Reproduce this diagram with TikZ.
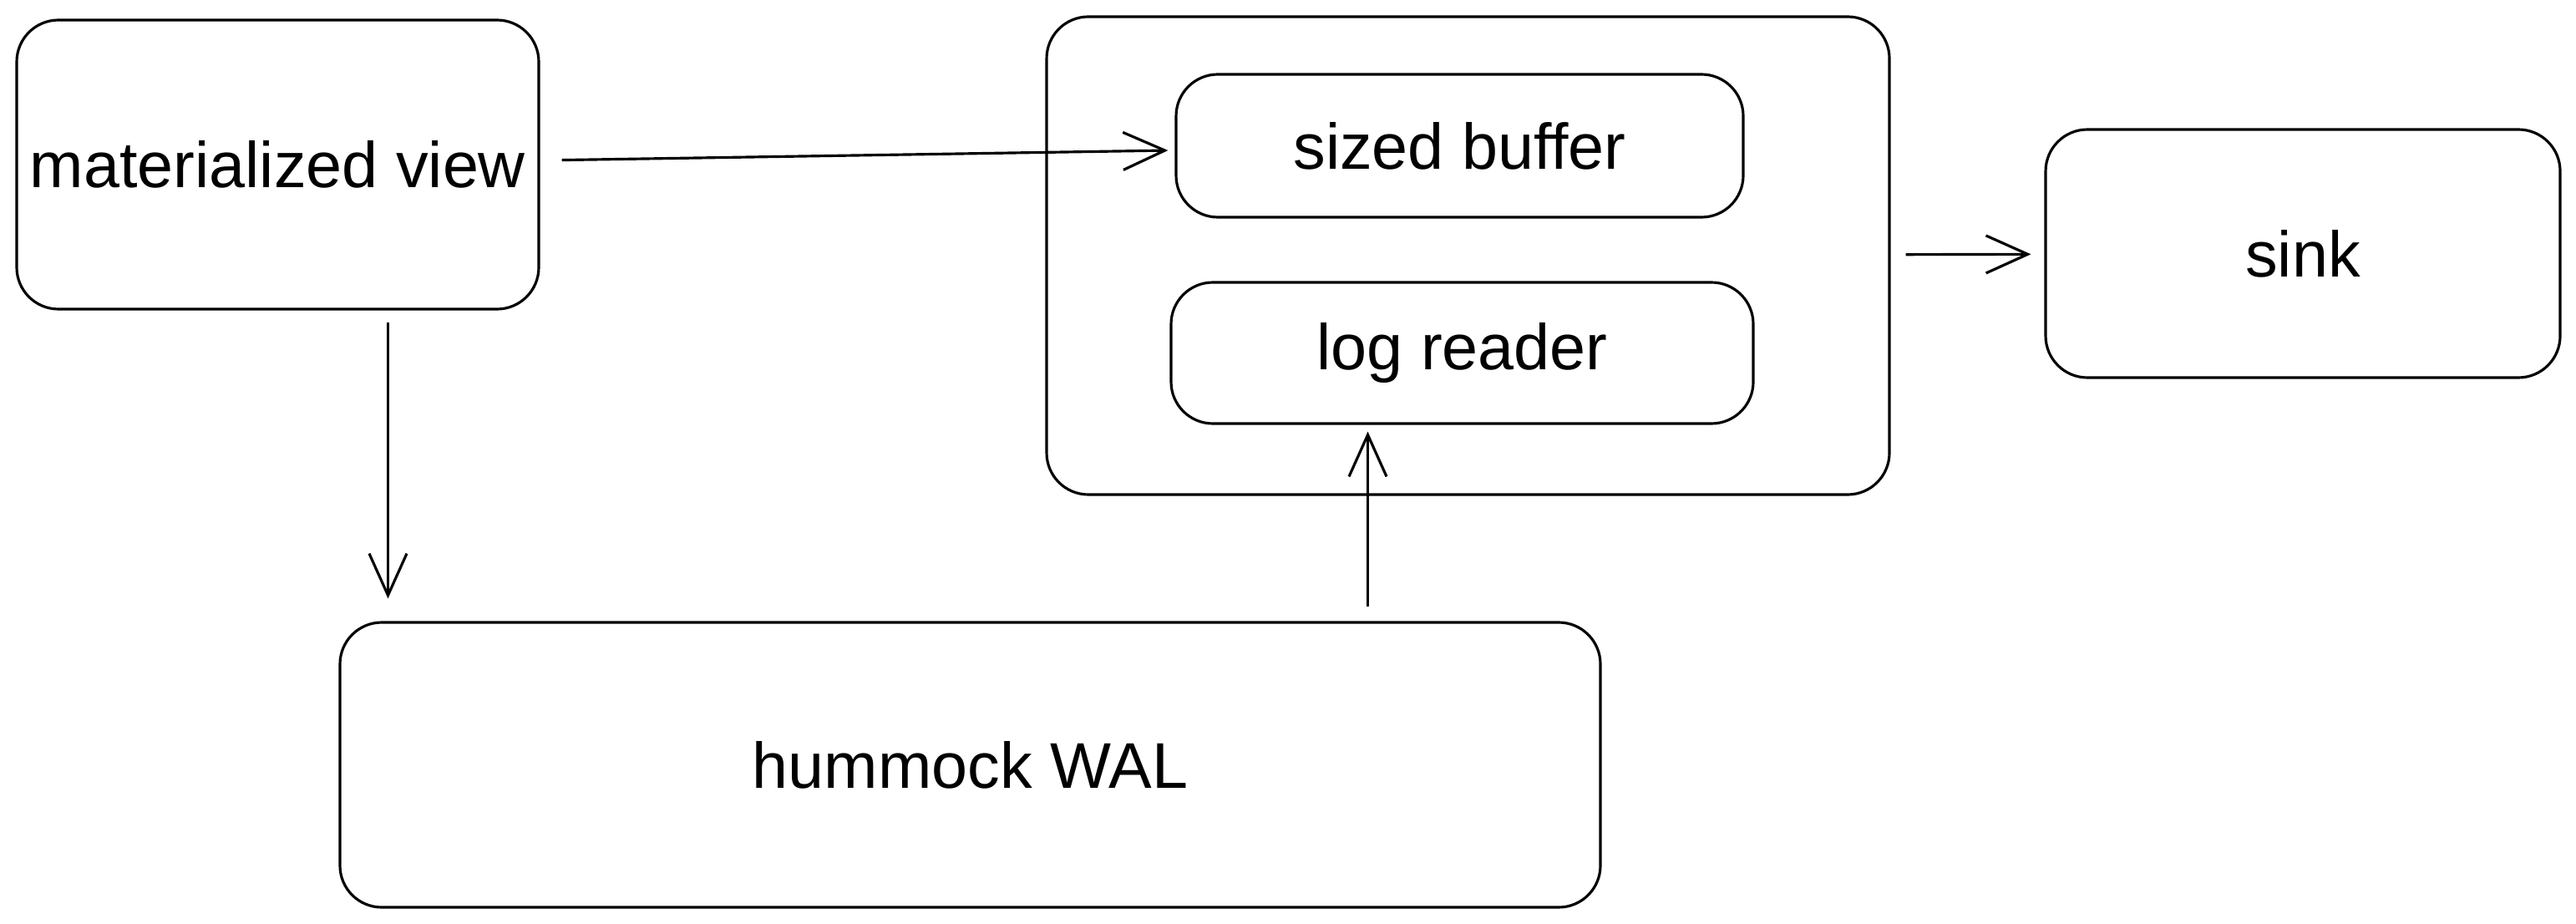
\documentclass[tikz,border=0pt]{standalone}
\usepackage{fontspec}
\setmainfont{Liberation Sans}
\usetikzlibrary{arrows.meta,positioning}

\begin{document}
\begin{tikzpicture}[
    box/.style={rectangle, draw, rounded corners=0.5cm, line width=0.9pt, font=\fontsize{22}{26}\selectfont},
    arrow/.style={line width=0.9pt, -{Straight Barb[length=0.5cm,width=0.45cm]}}]

    \useasboundingbox (0,0) rectangle (30.84,-11.06);

    % Nodes
    \node [box, minimum width=6.25cm, minimum height=3.46cm] (mview) at (3.325,-1.97) {materialized view};
    \node [box, minimum width=10.09cm, minimum height=5.72cm] (logstore) at (17.575,-3.06) {};
    \node [box, minimum width=6.79cm, minimum height=1.71cm] (buffer) at (17.475,-1.745) {sized buffer};
    \node [box, minimum width=6.97cm, minimum height=1.69cm] (reader) at (17.505,-4.225) {log reader};
    \node [box, minimum width=6.16cm, minimum height=2.97cm] (sink) at (27.57,-3.035) {sink};
    \node [box, minimum width=15.09cm, minimum height=3.41cm] (wal) at (11.615,-9.155) {hummock WAL};

    % Connections
    \draw[arrow, shorten <=0.26cm, shorten >=0.08cm] (mview) -- (buffer);
    \draw[arrow, shorten <=0.14cm, shorten >=0.27cm] ([xshift=1.32cm]mview.south) -- ([xshift=1.32cm]mview.south |- wal.north);
    \draw[arrow, shorten <=0.17cm, shorten >=0.08cm] ([xshift=-1.13cm]reader.south |- wal.north) -- ([xshift=-1.13cm]reader.south);
    \draw[arrow, shorten <=0.18cm, shorten >=0.16cm] (logstore) -- (sink);

\end{tikzpicture}
\end{document}
